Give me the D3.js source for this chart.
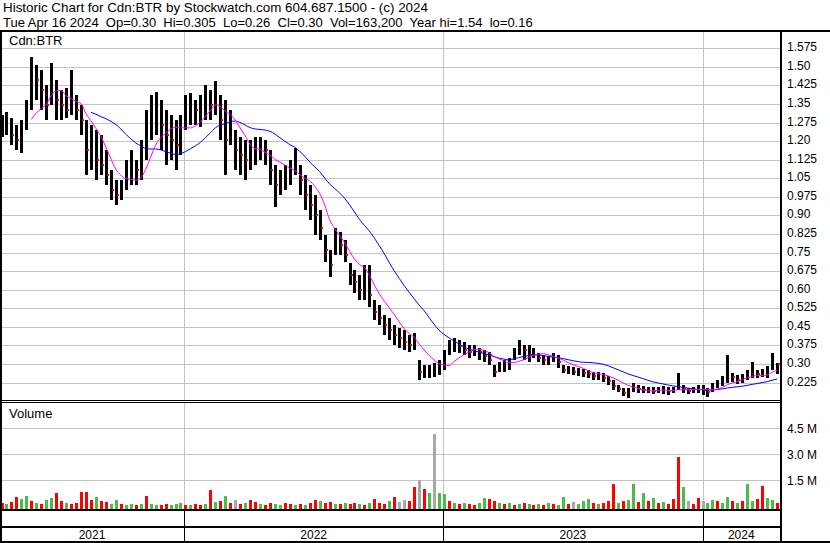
<!DOCTYPE html>
<html><head><meta charset="utf-8">
<script src="https://cdn.jsdelivr.net/npm/d3@7"></script>
<style>
body{margin:0;background:#fff;}
svg{display:block;font-family:"Liberation Sans",Arial,sans-serif;}
</style>
</head><body>
<svg id="c" width="830" height="543"></svg>
<script>
// Weekly samples, first week starting 2021-04-19
const firstWeek = "2021-04-19";
const lastDay = "2024-04-16";
const hi = [1.306,1.318,1.293,1.265,1.285,1.366,1.540,1.508,1.487,1.427,
1.516,1.447,1.407,1.415,1.487,1.386,1.346,1.285,1.265,1.245,
1.225,1.164,1.083,1.043,1.043,1.124,1.164,1.124,1.205,1.326,
1.386,1.398,1.366,1.326,1.306,1.285,1.306,1.386,1.394,1.366,
1.386,1.427,1.407,1.443,1.386,1.366,1.326,1.245,1.217,1.205,
1.205,1.217,1.217,1.205,1.164,1.104,1.083,1.104,1.124,1.172,
1.104,1.063,1.023,0.982,0.922,0.821,0.760,0.849,0.833,0.801,
0.708,0.679,0.659,0.700,0.700,0.558,0.538,0.497,0.485,0.457,
0.445,0.437,0.417,0.425,0.315,0.295,0.295,0.304,0.315,0.356,
0.396,0.405,0.396,0.388,0.376,0.376,0.364,0.356,0.348,0.295,
0.308,0.315,0.324,0.364,0.396,0.376,0.376,0.364,0.344,0.336,
0.332,0.344,0.336,0.295,0.291,0.287,0.283,0.279,0.275,0.267,
0.267,0.263,0.251,0.235,0.215,0.203,0.203,0.223,0.215,0.211,
0.207,0.207,0.207,0.211,0.207,0.207,0.263,0.215,0.203,0.207,
0.215,0.215,0.203,0.223,0.235,0.251,0.336,0.263,0.255,0.259,
0.275,0.308,0.275,0.279,0.291,0.344,0.305];
const lo = [1.217,1.225,1.184,1.164,1.152,1.245,1.326,1.366,1.326,1.285,
1.346,1.285,1.285,1.293,1.306,1.285,1.225,1.063,1.083,1.043,
1.063,1.023,0.962,0.942,0.962,1.002,1.023,1.023,1.043,1.124,
1.205,1.225,1.164,1.104,1.124,1.083,1.144,1.245,1.265,1.265,
1.257,1.285,1.285,1.306,1.205,1.063,1.184,1.083,1.063,1.043,
1.083,1.104,1.124,1.104,1.023,0.934,0.982,1.002,1.023,1.063,
0.982,0.922,0.881,0.821,0.801,0.712,0.651,0.740,0.740,0.712,
0.619,0.586,0.558,0.558,0.530,0.477,0.457,0.417,0.396,0.376,
0.364,0.356,0.348,0.356,0.235,0.243,0.243,0.247,0.255,0.275,
0.336,0.348,0.344,0.336,0.324,0.332,0.315,0.308,0.295,0.247,
0.267,0.267,0.275,0.315,0.336,0.315,0.308,0.324,0.308,0.295,
0.295,0.308,0.283,0.263,0.259,0.255,0.251,0.247,0.243,0.235,
0.235,0.227,0.215,0.194,0.186,0.170,0.162,0.186,0.182,0.182,
0.182,0.178,0.182,0.178,0.174,0.182,0.194,0.182,0.178,0.182,
0.182,0.174,0.166,0.186,0.203,0.211,0.223,0.227,0.219,0.223,
0.235,0.243,0.243,0.247,0.243,0.275,0.26];
const close = [1.265,1.285,1.225,1.205,1.225,1.346,1.467,1.447,1.407,1.346,
1.447,1.366,1.346,1.326,1.366,1.326,1.285,1.164,1.164,1.124,
1.104,1.063,1.002,0.982,1.002,1.063,1.104,1.083,1.124,1.245,
1.326,1.346,1.265,1.225,1.205,1.184,1.225,1.326,1.346,1.326,
1.326,1.366,1.346,1.386,1.285,1.205,1.245,1.164,1.144,1.124,
1.144,1.164,1.184,1.164,1.083,1.023,1.043,1.063,1.075,1.124,
1.043,0.982,0.942,0.902,0.849,0.760,0.700,0.801,0.780,0.740,
0.659,0.631,0.598,0.619,0.578,0.510,0.485,0.457,0.437,0.417,
0.405,0.388,0.376,0.376,0.267,0.267,0.267,0.275,0.283,0.336,
0.364,0.376,0.372,0.356,0.348,0.356,0.348,0.332,0.315,0.267,
0.283,0.295,0.304,0.348,0.364,0.356,0.336,0.348,0.324,0.315,
0.315,0.324,0.308,0.275,0.275,0.267,0.267,0.263,0.259,0.251,
0.251,0.243,0.231,0.211,0.199,0.182,0.182,0.203,0.199,0.194,
0.194,0.190,0.194,0.194,0.190,0.194,0.215,0.199,0.190,0.194,
0.199,0.194,0.186,0.211,0.223,0.235,0.267,0.247,0.235,0.243,
0.255,0.267,0.259,0.263,0.267,0.315,0.30];
// volume in millions (peak daily volume of each week)
const volume = [0.2,0.15,0.25,0.55,0.45,0.6,0.3,0.2,0.15,0.35,
0.5,0.75,0.3,0.2,0.15,0.2,0.85,0.85,0.35,0.55,
0.3,0.25,0.15,0.35,0.15,0.1,0.15,0.1,0.15,0.6,
0.15,0.1,0.1,0.15,0.1,0.15,0.2,0.1,0.1,0.15,
0.1,0.15,0.95,0.25,0.3,0.6,0.2,0.4,0.15,0.2,
0.35,0.25,0.15,0.1,0.2,0.15,0.1,0.2,0.15,0.1,
0.15,0.1,0.2,0.35,0.3,0.2,0.25,0.15,0.15,0.2,
0.15,0.2,0.15,0.1,0.2,0.45,0.2,0.15,0.3,0.55,
0.25,0.4,0.3,1.1,1.5,1.0,0.8,4.2,0.8,0.7,
0.3,0.2,0.15,0.2,0.15,0.1,0.2,0.5,0.45,0.3,
0.2,0.15,0.2,0.1,0.15,0.2,0.15,0.1,0.15,0.1,
0.2,0.15,0.1,0.55,0.15,0.25,0.15,0.3,0.45,0.2,
0.15,0.2,0.3,1.3,0.2,0.3,0.35,1.3,0.25,0.8,
0.3,0.5,0.2,0.25,0.15,0.45,2.85,1.1,0.3,0.15,
0.5,0.3,0.2,0.4,0.3,0.2,0.55,0.3,0.2,0.3,
1.3,0.3,0.45,1.2,0.5,0.35,0.2];
// r = down, g = up, n = unchanged
const volDir = ("rgrrggrgrg"+"grrgrrrrrg"+"rrggrggrgr"+"ggrrgggrgr"+"rgrgrgrnrg"+
"rrgrrggrrg"+"rgrrgrrgrg"+"rrgrgrrrgr"+"nnrrnrgngg"+"rgrgrrggrr"+
"grgrgrgrgr"+"grggrngggr"+"grrrgrggrg"+"rgrgrrrgnr"+"rnggrggrgr"+"ggrrggr").split("");
const priceTicks = [0.225,0.30,0.375,0.45,0.525,0.60,0.675,0.75,0.825,0.90,0.975,1.05,1.125,1.20,1.275,1.35,1.425,1.50,1.575];
const priceTickLabels = ["0.225","0.30","0.375","0.45","0.525","0.60","0.675","0.75","0.825","0.90","0.975","1.05","1.125","1.20","1.275","1.35","1.425","1.50","1.575"];
const volTicks = [1.5,3.0,4.5];
const volTickLabels = ["1.5 M","3.0 M","4.5 M"];
const years = ["2021","2022","2023","2024"];
const maShort = 7, maLong = 19; // weeks (~30 and ~90 trading days)
const title1 = "Historic Chart for Cdn:BTR by Stockwatch.com 604.687.1500 - (c) 2024";
const title2 = "Tue Apr 16 2024  Op=0.30  Hi=0.305  Lo=0.26  Cl=0.30  Vol=163,200  Year hi=1.54  lo=0.16";

const parse = d3.timeParse("%Y-%m-%d");
const start = parse(firstWeek);
const dates = hi.map((_, i) => d3.timeWeek.offset(start, i));
const data = dates.map((d, i) => ({d, hi: hi[i], lo: lo[i], c: close[i], v: volume[i], dir: volDir[i]}));

const svg = d3.select("#c");
const W = 830, H = 543, R = 781;
const x = d3.scaleTime().domain([start, parse(lastDay)]).range([1.5, 777.8]);
const y = d3.scaleLinear().domain([0.225, 1.575]).range([382.6, 48.3]);
const yv = d3.scaleLinear().domain([0, 4.5]).range([506.5, 428.4]);

svg.append("rect").attr("width", W).attr("height", H).attr("fill", "#fff");

const grid = "#c4c4c4";
const g = svg.append("g").attr("shape-rendering", "crispEdges");
g.selectAll(".pg").data(priceTicks).join("line")
  .attr("x1", 2).attr("x2", R).attr("y1", d => Math.round(y(d)) + 0.5).attr("y2", d => Math.round(y(d)) + 0.5)
  .attr("stroke", grid);
g.selectAll(".vg").data(volTicks).join("line")
  .attr("x1", 2).attr("x2", R).attr("y1", d => Math.round(yv(d)) + 0.5).attr("y2", d => Math.round(yv(d)) + 0.5)
  .attr("stroke", grid);
const yearStarts = years.slice(1).map(s => parse(s + "-01-01"));
yearStarts.forEach(d => {
  const xx = Math.round(x(d)) + 0.5;
  g.append("line").attr("x1", xx).attr("x2", xx).attr("y1", 31).attr("y2", 400).attr("stroke", grid);
  g.append("line").attr("x1", xx).attr("x2", xx).attr("y1", 403).attr("y2", 509).attr("stroke", grid);
  g.append("line").attr("x1", xx).attr("x2", xx).attr("y1", 510).attr("y2", 541).attr("stroke", "#000");
});

// volume bars
const volColor = {r: "#ff0000", g: "#4cbb4c", n: "#a8a8a8"};
svg.append("clipPath").attr("id", "vc").append("rect").attr("x", 2).attr("y", 404).attr("width", R - 2).attr("height", 105);
svg.append("g").attr("clip-path", "url(#vc)").attr("shape-rendering", "crispEdges")
  .selectAll("rect").data(data).join("rect")
  .attr("x", d => Math.round(x(d.d)) - 1).attr("width", 3)
  .attr("y", d => yv(d.v)).attr("height", d => 509 - yv(d.v))
  .attr("fill", d => volColor[d.dir]);

// price bars
const pg = svg.append("g").attr("shape-rendering", "crispEdges");
pg.selectAll("rect").data(data).join("rect")
  .attr("x", d => Math.round(x(d.d)) - 1).attr("width", 3)
  .attr("y", d => y(d.hi)).attr("height", d => Math.max(1, y(d.lo) - y(d.hi)))
  .attr("fill", "#000");
pg.selectAll(".rm").data(data.filter((d, i) => i > 0 && d.c < data[i - 1].c)).join("rect")
  .attr("x", d => Math.round(x(d.d)) + 1).attr("width", 2)
  .attr("y", d => Math.round(y(d.c)) - 1).attr("height", 2)
  .attr("fill", "#ff0000");

// moving averages
function sma(n) {
  return data.map((d, i) => i < n - 1 ? null : {d: d.d, v: d3.mean(data.slice(i - n + 1, i + 1), e => e.c)}).filter(e => e);
}
const maLine = d3.line().x(e => x(e.d)).y(e => y(e.v)).curve(d3.curveMonotoneX);
svg.append("path").datum(sma(maLong)).attr("d", maLine)
  .attr("fill", "none").attr("stroke", "#0000ff").attr("stroke-width", 1);
svg.append("path").datum(sma(maShort)).attr("d", maLine)
  .attr("fill", "none").attr("stroke", "#ff00ff").attr("stroke-width", 1);

// frame
const f = svg.append("g").attr("shape-rendering", "crispEdges").attr("fill", "#000");
f.append("rect").attr("x", 0).attr("y", 30).attr("width", W).attr("height", 2);
f.append("rect").attr("x", 0).attr("y", 30).attr("width", 2).attr("height", 513);
f.append("rect").attr("x", R - 1).attr("y", 30).attr("width", 2).attr("height", 513);
f.append("rect").attr("x", 0).attr("y", 400).attr("width", R).attr("height", 1);
f.append("rect").attr("x", 0).attr("y", 402).attr("width", R).attr("height", 1);
f.append("rect").attr("x", 0).attr("y", 509).attr("width", R).attr("height", 2);
f.append("rect").attr("x", 0).attr("y", 526).attr("width", R).attr("height", 2);
f.append("rect").attr("x", 0).attr("y", 541).attr("width", W).attr("height", 2);

// texts
const t = svg.append("g").attr("fill", "#000");
t.append("text").attr("x", 3).attr("y", 12).attr("font-size", 13.4).text(title1);
t.append("text").attr("x", 3).attr("y", 27).attr("font-size", 13).style("white-space", "pre").text(title2);
t.append("text").attr("x", 9).attr("y", 45).attr("font-size", 13).text("Cdn:BTR");
t.append("text").attr("x", 9).attr("y", 418).attr("font-size", 13).text("Volume");
t.selectAll(".pl").data(priceTicks).join("text")
  .attr("x", 787).attr("y", d => y(d) + 3).attr("font-size", 12)
  .text((d, i) => priceTickLabels[i]);
t.selectAll(".vl").data(volTicks).join("text")
  .attr("x", 787).attr("y", d => yv(d) + 4.5).attr("font-size", 12)
  .text((d, i) => volTickLabels[i]);
const bounds = [x(parse("2021-04-19")) - 1.5, ...yearStarts.map(x), R - 1];
t.selectAll(".yl").data(years).join("text")
  .attr("x", (d, i) => (bounds[i] + bounds[i + 1]) / 2).attr("y", 539).attr("font-size", 12)
  .attr("text-anchor", "middle").text(d => d);
</script>
</body></html>
